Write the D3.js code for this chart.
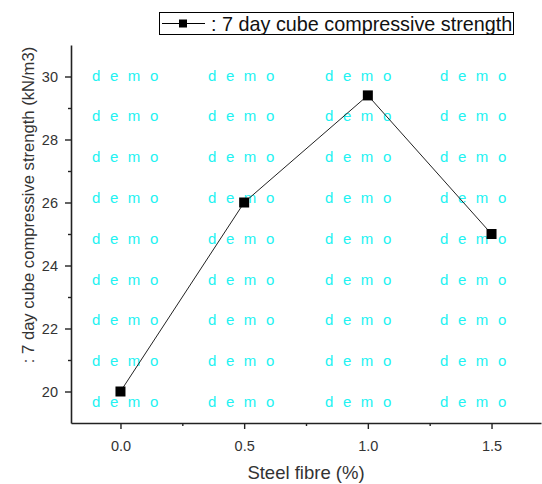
<!DOCTYPE html>
<html>
<head>
<meta charset="utf-8">
<script src="https://cdn.jsdelivr.net/npm/d3@7"></script>
<style>
  html, body { margin: 0; padding: 0; background: #fff; }
  svg { display: block; }
  text { font-family: Arial, "Liberation Sans", sans-serif; }
</style>
</head>
<body>
<svg id="chart" width="542" height="484"></svg>
<script>
// Steel fibre content (%) and 7-day cube compressive strength
const fibre = [0, 0.5, 1.0, 1.5];
const strength = [20, 26, 29.4, 25.0];

const xTicks = [0, 0.5, 1.0, 1.5];
const xMinorTicks = [0.25, 0.75, 1.25];
const yTicks = [20, 22, 24, 26, 28, 30];
const yMinorTicks = [21, 23, 25, 27, 29];

const seriesName = ": 7 day cube compressive strength";
const xTitle = "Steel fibre (%)";
const yTitle = ": 7 day cube compressive strength (kN/m3)";
const watermarkText = "d e m o";

const svg = d3.select("#chart");
const plot = { left: 71, right: 541, top: 45, bottom: 423 };

const x = d3.scaleLinear().domain([-0.2, 1.7]).range([plot.left, plot.right]);
const y = d3.scaleLinear().domain([19, 31]).range([plot.bottom, plot.top]);

// watermark grid behind the data
const wm = svg.append("g").attr("class", "watermark");
const wmCols = [92, 208, 325, 440];
const wmRows = d3.range(9).map(i => 75 + i * 40.8);
wmRows.forEach(ry => wmCols.forEach(cx => {
  wm.append("text")
    .attr("x", cx).attr("y", ry + 5.5)
    .attr("fill", "#22f2f2")
    .attr("font-size", 15)
    .attr("letter-spacing", "2.7px")
    .text(watermarkText);
}));

// axes
const axisColor = "#222";
const xAxis = svg.append("g").attr("transform", `translate(0,${plot.bottom})`)
  .call(d3.axisBottom(x).tickValues(xTicks).tickFormat(d3.format(".1f")).tickSize(6).tickSizeOuter(0));
svg.append("g").attr("transform", `translate(0,${plot.bottom})`)
  .call(d3.axisBottom(x).tickValues(xMinorTicks).tickFormat("").tickSize(3).tickSizeOuter(0))
  .select(".domain").remove();

const yAxis = svg.append("g").attr("transform", `translate(${plot.left},0)`)
  .call(d3.axisLeft(y).tickValues(yTicks).tickFormat(d3.format("d")).tickSize(6).tickSizeOuter(0));
svg.append("g").attr("transform", `translate(${plot.left},0)`)
  .call(d3.axisLeft(y).tickValues(yMinorTicks).tickFormat("").tickSize(3).tickSizeOuter(0))
  .select(".domain").remove();

svg.selectAll(".domain").attr("stroke", axisColor).attr("stroke-width", 1.6);
svg.selectAll(".tick line").attr("stroke", axisColor).attr("stroke-width", 1.4);
xAxis.selectAll(".tick text").attr("font-size", 14.5).attr("fill", "#333").attr("y", 28).attr("dy", 0);
yAxis.selectAll(".tick text").attr("font-size", 14.5).attr("fill", "#333").attr("x", -13);

// axis titles
svg.append("text")
  .attr("x", (plot.left + plot.right) / 2).attr("y", 479)
  .attr("text-anchor", "middle").attr("font-size", 18.5).attr("fill", "#333")
  .text(xTitle);
svg.append("text")
  .attr("transform", `translate(34,205) rotate(-90)`)
  .attr("text-anchor", "middle").attr("font-size", 16.6).attr("fill", "#333")
  .text(yTitle);

// data line and markers
const line = d3.line().x((d, i) => x(fibre[i])).y(d => y(d));
svg.append("path").datum(strength)
  .attr("d", line).attr("fill", "none").attr("stroke", "#222").attr("stroke-width", 1);
svg.selectAll("rect.pt").data(strength).join("rect")
  .attr("class", "pt")
  .attr("x", (d, i) => x(fibre[i]) - 5).attr("y", d => y(d) - 5)
  .attr("width", 10).attr("height", 10).attr("fill", "#000");

// legend
const lg = svg.append("g");
lg.append("rect").attr("x", 159.5).attr("y", 12.5).attr("width", 354).attr("height", 22)
  .attr("fill", "#fff").attr("stroke", "#000").attr("stroke-width", 1);
lg.append("line").attr("x1", 162).attr("x2", 205).attr("y1", 23.5).attr("y2", 23.5)
  .attr("stroke", "#000").attr("stroke-width", 1);
lg.append("rect").attr("x", 179).attr("y", 19.5).attr("width", 8).attr("height", 8).attr("fill", "#000");
lg.append("text").attr("x", 211).attr("y", 31).attr("font-size", 19.8).attr("fill", "#111")
  .text(seriesName);
</script>
</body>
</html>
